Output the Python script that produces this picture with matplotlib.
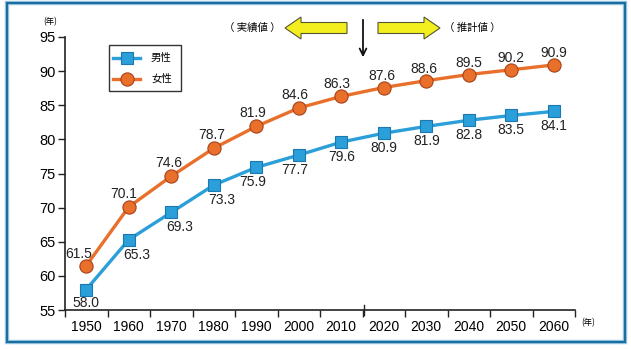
import matplotlib
matplotlib.use("Agg")
import matplotlib.pyplot as plt
from matplotlib.patches import FancyArrow, Rectangle

plt.rcParams['font.family'] = ['Liberation Sans', 'Noto Sans CJK JP', 'DejaVu Sans']

years = ['1950', '1960', '1970', '1980', '1990', '2000', '2010', '2020', '2030', '2040', '2050', '2060']
male = [58.0, 65.3, 69.3, 73.3, 75.9, 77.7, 79.6, 80.9, 81.9, 82.8, 83.5, 84.1]
female = [61.5, 70.1, 74.6, 78.7, 81.9, 84.6, 86.3, 87.6, 88.6, 89.5, 90.2, 90.9]
yticks = [55, 60, 65, 70, 75, 80, 85, 90, 95]

# label offsets in pixels (dx, dy) -- styling only
male_off = [(0, -13), (8, -15), (8, -15), (8, -15), (-4, -15), (-4, -15),
            (0, -15), (0, -15), (0, -15), (0, -15), (0, -15), (0, -15)]
female_off = [(-8, 12), (-5, 13), (-3, 13), (-2, 13), (-4, 13), (-4, 13),
              (-4, 12), (-2, 12), (-2, 12), (0, 12), (0, 12), (0, 12)]

W, H = 631, 350
fig = plt.figure(figsize=(W / 100, H / 100), dpi=100)
ax = fig.add_axes([65 / W, 1 - 310 / H, (575 - 65) / W, (310 - 37) / H])

x = list(range(len(years)))
male_c = '#2a9fd9'
fem_c = '#e9702a'
sq_ms, ci_ms = 8, 9.5
ax.plot(x, male, color=male_c, lw=2.4, marker='s', ms=sq_ms, mfc=male_c, mec='#1c78b0', mew=0.8, zorder=3)
ax.plot(x, female, color=fem_c, lw=2.4, marker='o', ms=ci_ms, mfc=fem_c, mec='#a8401a', mew=0.8, zorder=3)

px2pt = 0.72
for i, v in enumerate(male):
    dx, dy = male_off[i]
    ax.annotate(f'{v:.1f}', (i, v), xytext=(dx * px2pt, dy * px2pt), textcoords='offset points',
                ha='center', va='center', fontsize=10, color='#222222', zorder=4)
for i, v in enumerate(female):
    dx, dy = female_off[i]
    ax.annotate(f'{v:.1f}', (i, v), xytext=(dx * px2pt, dy * px2pt), textcoords='offset points',
                ha='center', va='center', fontsize=10, color='#222222', zorder=4)

ax.set_xlim(-0.5, len(years) - 0.5)
ax.set_ylim(55, 95)
ax.set_yticks(yticks)
ax.set_yticklabels([str(t) for t in yticks], fontsize=10.5)
ax.set_xticks(x)
ax.set_xticklabels(years, fontsize=10)
ax.tick_params(axis='x', which='major', length=0, pad=7)
ax.set_xticks([i - 0.5 for i in range(len(years) + 1)], minor=True)
ax.tick_params(axis='x', which='minor', length=5, width=1, direction='out', color='#222222')
ax.tick_params(axis='y', length=5, width=1, direction='out', pad=2, color='#222222')
for s in ['top', 'right']:
    ax.spines[s].set_visible(False)
for s in ['left', 'bottom']:
    ax.spines[s].set_color('#222222')
    ax.spines[s].set_linewidth(1.2)

# overlay for decorations in pixel coordinates
ov = fig.add_axes([0, 0, 1, 1], facecolor='none')
ov.set_xlim(0, W)
ov.set_ylim(H, 0)
ov.axis('off')

# taller tick at the boundary between actual and projected values
ov.plot([364, 364], [305, 315], color='#222222', lw=1)

# frame
ov.add_patch(Rectangle((7, 3), 618, 339, fill=False, ec='#9fcbe6', lw=3.2))
ov.add_patch(Rectangle((7, 3), 618, 339, fill=False, ec='#1b6f9f', lw=1.6))

# legend
ov.add_patch(Rectangle((109, 45), 72, 46, fill=False, ec='#333333', lw=1))
ov.plot([113, 140], [58, 58], color=male_c, lw=2.4)
ov.plot([126.5], [58], marker='s', ms=sq_ms, mfc=male_c, mec='#1c78b0', mew=0.8)
ov.plot([113, 140], [79, 79], color=fem_c, lw=2.4)
ov.plot([126.5], [79], marker='o', ms=ci_ms, mfc=fem_c, mec='#a8401a', mew=0.8)
ov.text(151, 58, '男性', fontsize=7.5, va='center', ha='left', family=['Noto Sans CJK JP'])
ov.text(151, 79, '女性', fontsize=7.5, va='center', ha='left', family=['Noto Sans CJK JP'])

# axis unit labels
ov.text(50, 22, '(年)', fontsize=6, ha='center', va='center', family=['Noto Sans CJK JP'])
ov.text(588, 323, '(年)', fontsize=6, ha='center', va='center', family=['Noto Sans CJK JP'])

# arrows
yel = '#f3ef1e'
ov.add_patch(FancyArrow(347, 28, -62, 0, width=11, head_width=22, head_length=16,
                        length_includes_head=True, fc=yel, ec='#555533', lw=0.8))
ov.add_patch(FancyArrow(378, 28, 62, 0, width=11, head_width=22, head_length=16,
                        length_includes_head=True, fc=yel, ec='#555533', lw=0.8))
ov.annotate('', xy=(363, 60), xytext=(363, 17),
            arrowprops=dict(arrowstyle='->', color='#111111', lw=1.3, mutation_scale=12))
ov.text(252, 28, '（ 実績値 ）', fontsize=7.5, ha='center', va='center', family=['Noto Sans CJK JP'])
ov.text(472, 28, '（ 推計値 ）', fontsize=7.5, ha='center', va='center', family=['Noto Sans CJK JP'])

fig.savefig('out.png', dpi=100)
